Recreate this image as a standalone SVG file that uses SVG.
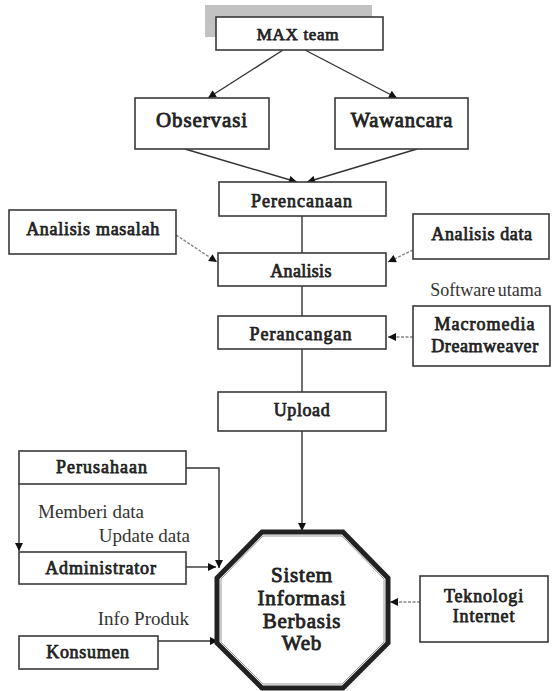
<svg xmlns="http://www.w3.org/2000/svg" width="554" height="691" viewBox="0 0 554 691">
<defs>
<marker id="ah" viewBox="0 0 10 10" refX="10" refY="5" markerWidth="9" markerHeight="8" markerUnits="userSpaceOnUse" orient="auto">
<path d="M0,0 L10,5 L0,10 z" fill="#111"/>
</marker>
<style>
.box{fill:#fff;stroke:#3a3a3a;stroke-width:1.6}
.t{font-family:"Liberation Serif","Times New Roman",serif;font-weight:normal;font-size:18px;fill:#222;stroke:#222;stroke-width:0.75;letter-spacing:0.8px;text-anchor:middle}
.r{font-family:"Liberation Serif","Times New Roman",serif;font-size:19px;fill:#333}
.c{fill:none;stroke:#333;stroke-width:1.4}
.g{fill:none;stroke:#888;stroke-width:1.4;stroke-dasharray:3 1.5}
</style>
</defs>
<rect x="0" y="0" width="554" height="691" fill="#fff"/>

<g id="connectors">
<line class="c" x1="283" y1="50" x2="208" y2="98" marker-end="url(#ah)"/>
<line class="c" x1="305" y1="50" x2="397" y2="98" marker-end="url(#ah)"/>
<line class="c" x1="185" y1="149" x2="297" y2="182" marker-end="url(#ah)"/>
<line class="c" x1="417" y1="149" x2="307" y2="182" marker-end="url(#ah)"/>
<line class="c" x1="302" y1="216" x2="302" y2="253"/>
<line class="c" x1="302" y1="286" x2="302" y2="316"/>
<line class="c" x1="302" y1="349" x2="302" y2="392"/>
<line class="g" x1="176" y1="235" x2="217" y2="262" marker-end="url(#ah)"/>
<line class="g" x1="413" y1="250" x2="388" y2="262" marker-end="url(#ah)"/>
<line class="g" x1="413" y1="337" x2="388" y2="337" marker-end="url(#ah)"/>
<line class="c" x1="302" y1="431" x2="302" y2="531" marker-end="url(#ah)"/>
<polyline class="c" points="186,468 219,468 219,568" marker-end="url(#ah)"/>
<line class="c" x1="19" y1="484" x2="19" y2="551" marker-end="url(#ah)"/>
<line class="c" x1="186" y1="567" x2="216" y2="567" marker-end="url(#ah)"/>
<line class="c" x1="158" y1="641" x2="218" y2="641" marker-end="url(#ah)"/>
<line class="g" x1="420" y1="602" x2="390" y2="602" marker-end="url(#ah)"/>
</g>

<g id="max-team">
<rect x="205" y="5" width="167" height="32" fill="#c2c2c2"/>
<rect class="box" x="216" y="17" width="167" height="33"/>
<text class="t" x="298" y="40" style="font-size:17px;letter-spacing:0.7px">MAX team</text>
</g>

<g id="observasi">
<rect class="box" x="135" y="98" width="134" height="51"/>
<text class="t" x="202" y="127" style="font-size:21px;letter-spacing:0.9px;stroke-width:0.85">Observasi</text>
</g>

<g id="wawancara">
<rect class="box" x="335" y="98" width="133" height="51"/>
<text class="t" x="402" y="127" style="font-size:20.5px;letter-spacing:0.8px;stroke-width:0.85">Wawancara</text>
</g>

<g id="perencanaan">
<rect class="box" x="219" y="182" width="167" height="34"/>
<text class="t" x="302" y="207" style="letter-spacing:1px">Perencanaan</text>
</g>

<g id="analisis-masalah">
<rect class="box" x="9" y="210" width="167" height="44"/>
<text class="t" x="93" y="235" style="letter-spacing:0.7px">Analisis masalah</text>
</g>

<g id="analisis-data">
<rect class="box" x="413" y="214" width="136" height="45"/>
<text class="t" x="482" y="240" style="letter-spacing:0.6px">Analisis data</text>
</g>

<g id="analisis">
<rect class="box" x="218" y="253" width="168" height="33"/>
<text class="t" x="301" y="277" style="letter-spacing:0.3px">Analisis</text>
</g>

<g id="perancangan">
<rect class="box" x="218" y="316" width="168" height="33"/>
<text class="t" x="301" y="340" style="letter-spacing:1px">Perancangan</text>
</g>

<g id="macromedia">
<text class="r" x="486" y="296" text-anchor="middle" style="font-size:18px;word-spacing:-2px">Software utama</text>
<rect class="box" x="413" y="306" width="137" height="60"/>
<text class="t" x="485" y="330" style="letter-spacing:1px">Macromedia</text>
<text class="t" x="485" y="352" style="letter-spacing:0.6px">Dreamweaver</text>
</g>

<g id="upload">
<rect class="box" x="218" y="392" width="168" height="39"/>
<text class="t" x="302" y="416" style="letter-spacing:0.6px">Upload</text>
</g>

<g id="perusahaan">
<rect class="box" x="19" y="451" width="167" height="33"/>
<text class="t" x="102" y="473" style="letter-spacing:1px">Perusahaan</text>
</g>

<g id="labels">
<text class="r" x="38" y="518">Memberi data</text>
<text class="r" x="190" y="542" text-anchor="end">Update data</text>
<text class="r" x="189" y="625" text-anchor="end">Info Produk</text>
</g>

<g id="administrator">
<rect class="box" x="19" y="552" width="167" height="32"/>
<text class="t" x="101" y="574">Administrator</text>
</g>

<g id="konsumen">
<rect class="box" x="19" y="636" width="139" height="33"/>
<text class="t" x="88" y="658" style="letter-spacing:0.7px">Konsumen</text>
</g>

<g id="sistem">
<polygon points="262,532 343,532 388,578 388,643 343,688 262,688 217,643 217,578" fill="#fff" stroke="#222" stroke-width="5" stroke-linejoin="miter"/>
<polygon points="263,536 342,536 384,579 384,642 342,684 263,684 221,642 221,579" fill="none" stroke="#9a9a9a" stroke-width="1"/>
<text class="t" x="302" y="582" style="font-size:21px;stroke-width:0.85">Sistem</text>
<text class="t" x="302" y="605" style="font-size:21px;stroke-width:0.85">Informasi</text>
<text class="t" x="302" y="628" style="font-size:21px;stroke-width:0.85">Berbasis</text>
<text class="t" x="302" y="650" style="font-size:21px;stroke-width:0.85">Web</text>
</g>

<g id="teknologi">
<rect class="box" x="420" y="576" width="128" height="66"/>
<text class="t" x="484" y="602">Teknologi</text>
<text class="t" x="484" y="622">Internet</text>
</g>
</svg>
